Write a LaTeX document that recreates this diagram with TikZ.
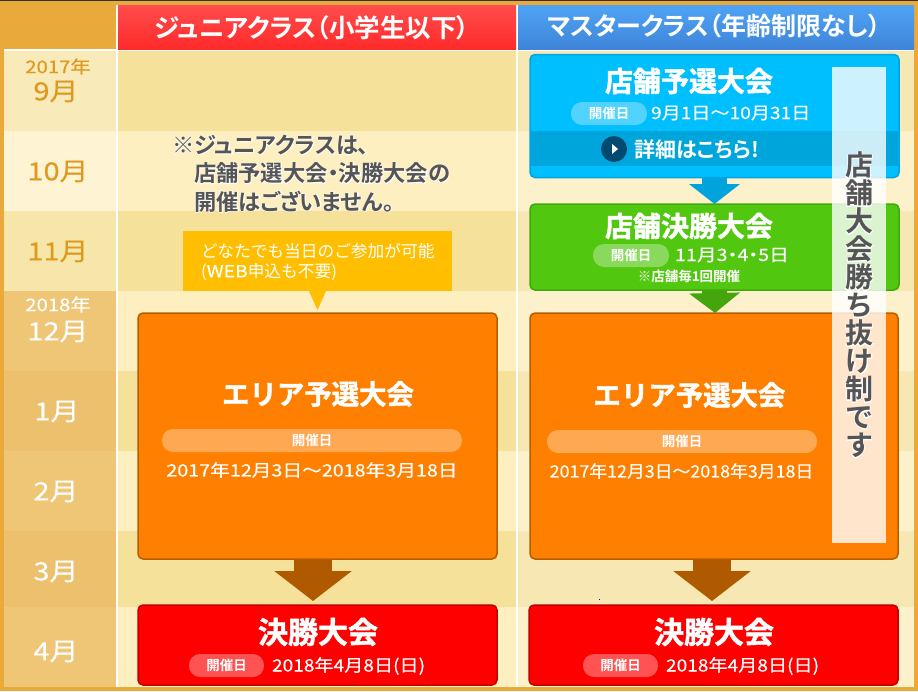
\documentclass[tikz,border=0pt]{standalone}
\usepackage{fontspec}
\usepackage{graphicx}
\usetikzlibrary{arrows.meta}
\newfontfamily\jp{Noto Sans CJK JP}
\newfontfamily\jpw[FakeStretch=1.16,FakeBold=0.35]{Noto Sans CJK JP}
\newfontfamily\jpwp[FakeStretch=1.16,FakeBold=0.35,RawFeature=+palt]{Noto Sans CJK JP}
\newfontfamily\jpheavy[FakeBold=1.5]{Noto Sans CJK JP Bold}
\newfontfamily\jpb[RawFeature=+palt]{Noto Sans CJK JP Bold}
\newfontfamily\jphalo[FakeBold=5,RawFeature=+palt]{Noto Sans CJK JP Bold}
\definecolor{frameC}{HTML}{E9A93B}
\definecolor{rowD}{HTML}{F6E19B}
\definecolor{rowL}{HTML}{FDEFC0}
\definecolor{rowDr}{HTML}{F7E7B3}
\definecolor{rowLr}{HTML}{FDF1CB}
\definecolor{monA}{HTML}{EFC576}
\definecolor{monB}{HTML}{ECC06C}
\definecolor{monT}{HTML}{DE9A1E}
\definecolor{grayT}{HTML}{555555}
\definecolor{cyanF}{HTML}{00BFFF}
\definecolor{cyanD}{HTML}{00A5E0}
\definecolor{cyanB}{HTML}{00A5DB}
\definecolor{greenF}{HTML}{52C70F}
\definecolor{greenD}{HTML}{3FA80E}
\definecolor{orgF}{HTML}{FF8000}
\definecolor{orgD}{HTML}{B35F00}
\definecolor{redD}{HTML}{C00000}
\definecolor{goC}{HTML}{004A70}
\definecolor{callC}{HTML}{FFBF00}
\definecolor{arB}{HTML}{00A3DC}
\definecolor{arG}{HTML}{44A50C}
\definecolor{arO}{HTML}{B05A00}
\definecolor{hRedT}{HTML}{FF4D4D}
\definecolor{hRedB}{HTML}{FF2A2A}
\definecolor{hBluT}{HTML}{4FA3F5}
\definecolor{hBluB}{HTML}{3F85D9}
\newcommand{\hl}[1]{\rlap{\color{white}\jphalo #1}#1}
\newcommand{\sz}[1]{\fontsize{#1}{#1}\selectfont}
\tikzset{
  x=1pt,y=-1pt,
  every node/.style={inner sep=0pt,outer sep=0pt},
  cell/.style={fill=#1,draw=none},
  monthlbl/.style={text=#1,font=\jpw\sz{25}},
  yearlbl/.style={text=#1,font=\jpw\sz{17.5}},
  stage/.style 2 args={fill=#1,draw=#2,line width=1.5pt,rounded corners=5pt},
  title/.style={text=white,font=\jpheavy\sz{#1}},
  datelbl/.style={text=white,font=\jpw\sz{17},anchor=west},
  pill/.style={fill=white,fill opacity=.32,text opacity=1,text=white,rounded corners=11pt,font=\jpb\sz{13.5},minimum height=23pt},
  flow/.style n args={4}{draw=#1,line width=#2,-{Triangle[length=#3,width=#4]}},
}
\begin{document}
\begin{tikzpicture}
\useasboundingbox (0,0) rectangle (918,691);
% frame
\fill[frameC] (0,0) rectangle (918,691);
\fill[black!80] (0,0) rectangle (918,1);
% month cells
\fill[cell=rowD!70!white] (4,50) rectangle (116,131);
\fill[cell=rowL!70!white] (4,131) rectangle (116,211);
\fill[cell=rowD!85!white] (4,211) rectangle (116,291);
\fill[cell=monA] (4,291) rectangle (116,371);
\fill[cell=monB] (4,371) rectangle (116,451);
\fill[cell=monA] (4,451) rectangle (116,531);
\fill[cell=monB] (4,531) rectangle (116,607);
\fill[cell=monA] (4,607) rectangle (116,687);
% left column rows
\fill[cell=rowD] (118,50) rectangle (516,131);
\fill[cell=rowL] (118,131) rectangle (516,211);
\fill[cell=rowD] (118,211) rectangle (516,291);
\fill[cell=rowL] (118,291) rectangle (516,371);
\fill[cell=rowD] (118,371) rectangle (516,451);
\fill[cell=rowL] (118,451) rectangle (516,531);
\fill[cell=rowD] (118,531) rectangle (516,607);
\fill[cell=rowL] (118,607) rectangle (516,687);
% right column rows
\fill[cell=rowDr] (518,50) rectangle (914,131);
\fill[cell=rowLr] (518,131) rectangle (914,211);
\fill[cell=rowDr] (518,211) rectangle (914,291);
\fill[cell=rowLr] (518,291) rectangle (914,371);
\fill[cell=rowDr] (518,371) rectangle (914,451);
\fill[cell=rowLr] (518,451) rectangle (914,531);
\fill[cell=rowDr] (518,531) rectangle (914,607);
\fill[cell=rowLr] (518,607) rectangle (914,687);
% white rules
\fill[white] (4,49) rectangle (914,51);
\fill[white] (116,5) rectangle (118,687);
\fill[white] (516,5) rectangle (518,687);
% headers
\shade[top color=hRedT,bottom color=hRedB] (118,5) rectangle (516,49);
\shade[top color=hBluT,bottom color=hBluB] (518,5) rectangle (914,49);
\node[text=white,font=\jpb\sz{25.5}] (hJ) at (312,28) {ジュニアクラス（小学生以下）};
\node[text=white,font=\jpb\sz{25}] (hM) at (714,25.5) {マスタークラス（年齢制限なし）};
% months
\node[yearlbl=monT] (y17) at (58,66.5) {2017年};
\node[monthlbl=monT] (m9) at (56,91.5) {9月};
\node[monthlbl=monT] (m10) at (58,171.5) {10月};
\node[monthlbl=monT] (m11) at (58,251.5) {11月};
\node[yearlbl=white] (y18) at (58,304.5) {2018年};
\node[monthlbl=white] (m12) at (58,331.5) {12月};
\node[monthlbl=white] (m1) at (57,411.5) {1月};
\node[monthlbl=white] (m2) at (56,491.5) {2月};
\node[monthlbl=white] (m3) at (56,571.5) {3月};
\node[monthlbl=white] (m4) at (56,651.5) {4月};
% stage boxes
\node[stage={cyanF}{cyanD},minimum width=369pt,minimum height=123pt] (shopQ) at (714.5,116) {};
\fill[cyanB] (531,131) rectangle (898,166);
\node[stage={greenF}{greenD},minimum width=369pt,minimum height=86pt] (shopF) at (714.5,247) {};
\node[stage={orgF}{orgD},minimum width=359pt,minimum height=246pt] (areaL) at (317.5,436) {};
\node[stage={orgF}{orgD},minimum width=368pt,minimum height=246pt] (areaR) at (714,436) {};
\node[stage={red}{redD},minimum width=359pt,minimum height=80pt] (finalL) at (317.5,645) {};
\node[stage={red}{redD},minimum width=369pt,minimum height=80pt] (finalR) at (713.5,645) {};
% block arrows
\draw[flow={arB}{25pt}{20pt}{50pt}] (shopQ.south) -- (shopF.north);
\draw[flow={arG}{25pt}{20pt}{50pt}] (shopF.south) -- ([xshift=0.5pt]shopF.south |- areaR.north);
\draw[flow={arO}{38pt}{30pt}{76pt},shorten >=4pt] ([xshift=-4.5pt]areaL.south) -- ([xshift=-4.5pt]finalL.north);
\draw[flow={arO}{38pt}{30pt}{76pt},shorten >=4pt] ([xshift=-2pt]areaR.south) -- ([xshift=-2pt]areaR.south |- finalR.north);
% speck
\fill[blue] (599,599) rectangle (600,600);
% shop qualifier
\node[title=28] (t1) at (689,81) {店舗予選大会};
\node[pill,minimum width=76pt] (p1) at (609,113.5) {開催日};
\node[datelbl] (d1) at (651,113) {\scalebox{.97}[1]{9月1日〜10月31日}};
\node[circle,fill=goC,minimum size=26pt] (go) at (614,149) {};
\fill[white] (612,144) -- (618,149) -- (612,154) -- cycle;
\node[text=white,font=\jpb\sz{21},anchor=west] (more) at (634,149) {詳細はこちら!};
% shop final
\node[title=28] (t2) at (689,226) {店舗決勝大会};
\node[pill,minimum width=76pt] (p2) at (631,255.5) {開催日};
\node[datelbl,font=\jpwp\sz{17}] (d2) at (675,255) {11月3・4・5日};
\node[text=white,font=\jpb\sz{13.5}] (n2) at (689,276) {※店舗毎1回開催};
% area
\node[title=27.4] (t3) at (318,394) {エリア予選大会};
\node[pill,minimum width=300pt] (p3) at (312,440.5) {開催日};
\node[text=white,font=\jpw\sz{17}] (d3) at (312,470) {2017年12月3日〜2018年3月18日};
\node[title=27.4] (t4) at (689.5,395) {エリア予選大会};
\node[pill,minimum width=270pt] (p4) at (682,441.5) {開催日};
\node[text=white,font=\jpw\sz{17}] (d4) at (681.5,471) {\scalebox{.905}[1]{2017年12月3日〜2018年3月18日}};
% finals
\node[title=30] (t5) at (318,632) {決勝大会};
\node[pill,minimum width=75pt] (p5) at (226.5,665.5) {開催日};
\node[datelbl] (d5) at (272,666) {\scalebox{.97}[1]{2018年4月8日(日)}};
\node[title=30] (t6) at (714,632) {決勝大会};
\node[pill,minimum width=75pt] (p6) at (620.5,665.5) {開催日};
\node[datelbl] (d6) at (666,666) {\scalebox{.97}[1]{2018年4月8日(日)}};
% note
\node[anchor=north west,align=left,text=grayT,font=\jpb\sz{22.3}] (note) at (172,135) {\hl{※ジュニアクラスは、}\\[6pt]\hspace{22pt}\hl{店舗予選大会・決勝大会の}\\[6pt]\hspace{22pt}\hl{開催はございません。}};
% callout
\node[fill=callC,minimum width=269pt,minimum height=60pt] (call) at (317.5,261) {};
\coordinate (callTip) at (317.5,310);
\fill[callC] (309,291) -- (326,291) -- (callTip) -- cycle;
\node[anchor=west,align=left,text=white,font=\jp\sz{16.7}] (calltx) at (201,262) {どなたでも当日のご参加が可能\\[3pt]({\jpw WEB}申込も不要)};
% vertical band
\fill[white,opacity=.8] (832,67) rectangle (886,543);
\node[anchor=north,align=center,text=grayT,font=\jpb\sz{28}] (vert) at (859,152) {\hl{店}\\\hl{舗}\\\hl{大}\\\hl{会}\\\hl{勝}\\\hl{ち}\\\hl{抜}\\\hl{け}\\\hl{制}\\\hl{で}\\\hl{す}};
\end{tikzpicture}
\end{document}
